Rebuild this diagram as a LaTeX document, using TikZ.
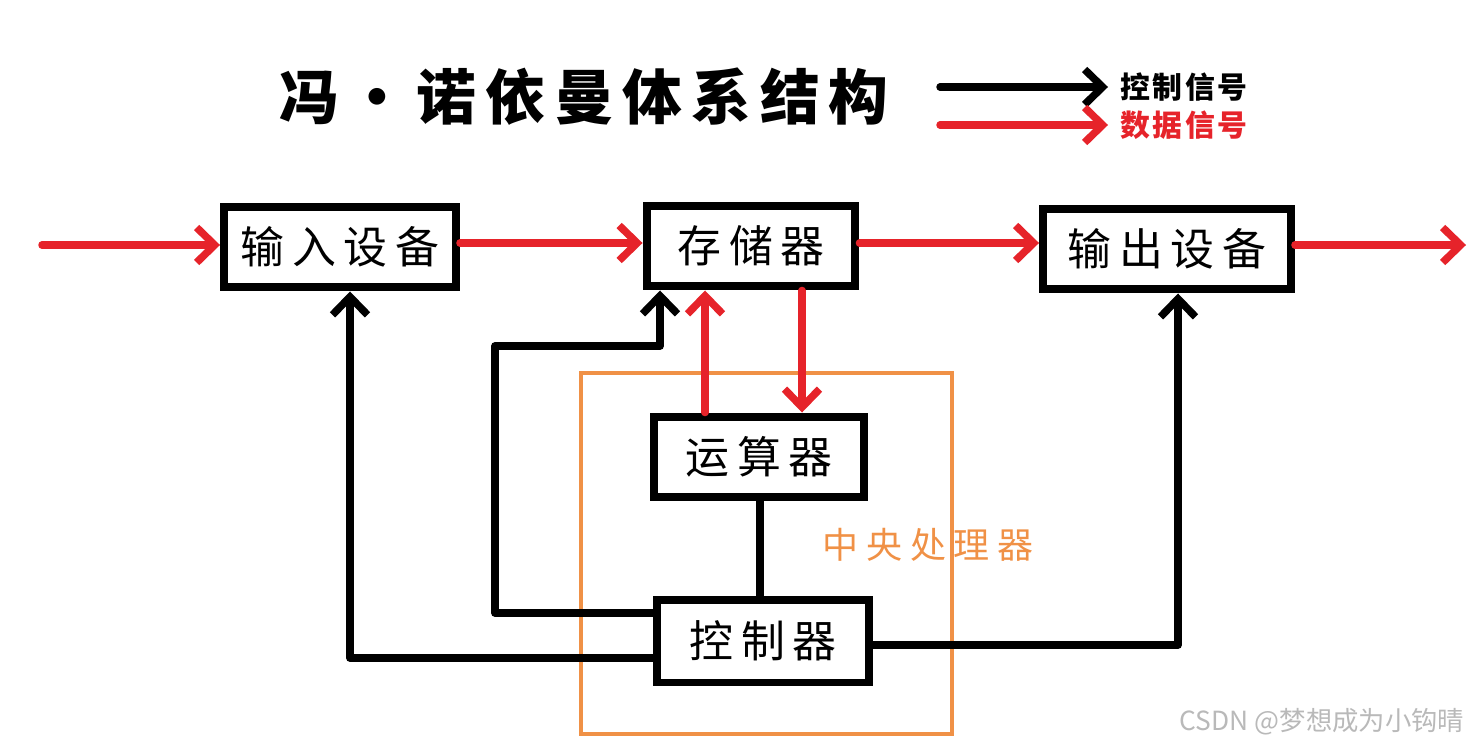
\documentclass[tikz,border=0pt]{standalone}
\usepackage{fontspec}
\setmainfont{Noto Sans CJK SC}
\newfontfamily\cjk[LetterSpace=18]{Noto Sans CJK SC}
\newfontfamily\cjkwide[LetterSpace=22]{Noto Sans CJK SC}
\newfontfamily\cjktight[LetterSpace=8]{Noto Sans CJK SC}
\newfontfamily\cjktitle[LetterSpace=15]{Noto Sans CJK SC}
\usetikzlibrary{arrows.meta,positioning}
\definecolor{datred}{RGB}{230,35,42}
\definecolor{cpuorange}{RGB}{240,145,70}
\tikzset{
  blk/.style={draw,rectangle,line width=0.16cm,fill=white,minimum height=1.62cm,inner sep=0pt,font=\cjk\fontsize{25}{25}\selectfont},
  ctlarr/.style={-{Straight Barb[length=0.36cm,width=0.7cm,line width=0.15cm]},line width=0.15cm,line join=round,line cap=round},
  datarr/.style={ctlarr,draw=datred},
  ctlln/.style={line width=0.15cm},
  lgd/.style={font=\cjktight\bfseries\fontsize{17}{17}\selectfont,inner sep=0pt,anchor=west}
}

\begin{document}
\begin{tikzpicture}[x=0.02cm,y=-0.02cm]
  \useasboundingbox (0,0) rectangle (1480,750);

  % title and legend
  \node[font=\cjktitle\bfseries\fontsize{34}{34}\selectfont] (title) at (584,97) {冯・诺依曼体系结构};
  \coordinate (lgc1) at (940,87);
  \coordinate (lgc2) at (1108,87);
  \coordinate (lgd1) at (940,125);
  \coordinate (lgd2) at (1108,125);
  \draw[ctlarr] (lgc1)--(lgc2);
  \draw[datarr] (lgd1)--(lgd2);
  \node[lgd, right=7pt of lgc2] (ctltxt) {控制信号};
  \node[lgd, right=7pt of lgd2, text=datred] (dattxt) {数据信号};

  % cpu frame
  \draw[cpuorange,line width=0.07cm] (581,373) rectangle (952,734);
  \node[font=\cjkwide\fontsize{20.5}{20.5}\selectfont,text=cpuorange] (cpu) at (928,545) {中央处理器};

  % units
  \node[blk,minimum width=4.64cm] (inp) at (340,247) {输入设备};
  \node[blk,minimum width=4.18cm] (mem) at (751,246) {存储器};
  \node[blk,minimum width=4.96cm] (outp) at (1167,249) {输出设备};
  \node[blk,minimum width=4.2cm] (alu) at (759,457) {运算器};
  \node[blk,minimum width=4.24cm,minimum height=1.66cm] (ctl) at (763,641) {控制器};

  % data signals
  \coordinate (srcin) at (42,245);
  \coordinate (snkout) at (1466,245);
  \coordinate (upx) at (705,0);
  \coordinate (dnx) at (802,0);
  \draw[datarr] (srcin)--(inp.west |- srcin);
  \draw[datarr] (inp.east |- 0,243)--(mem.west |- 0,243);
  \draw[datarr] (mem.east |- 0,243)--(outp.west |- 0,243);
  \draw[datarr] (outp.east |- snkout)--(snkout);
  \draw[datarr] (alu.north -| upx)--(mem.south -| upx);
  \draw[datarr] (mem.south -| dnx)--(alu.north -| dnx);

  % control signals
  \coordinate (c1) at (495,613);
  \coordinate (c2) at (495,346);
  \coordinate (c3) at (660,346);
  \coordinate (c4) at (350,658);
  \coordinate (c5) at (1178,645);
  \draw[ctlln] (alu.south -| 760,0)--(ctl.north -| 760,0);
  \draw[ctlarr] (ctl.west |- c1)--(c1)--(c2)--(c3)--(mem.south -| c3);
  \draw[ctlarr] (ctl.west |- c4)--(c4)--(inp.south -| c4);
  \draw[ctlarr] (ctl.east |- c5)--(c5)--(outp.south -| c5);

  % watermark
  \node[font=\fontsize{15}{15}\selectfont,text=gray!55] (mark) at (1322,722) {CSDN @梦想成为小钩晴};
\end{tikzpicture}
\end{document}
